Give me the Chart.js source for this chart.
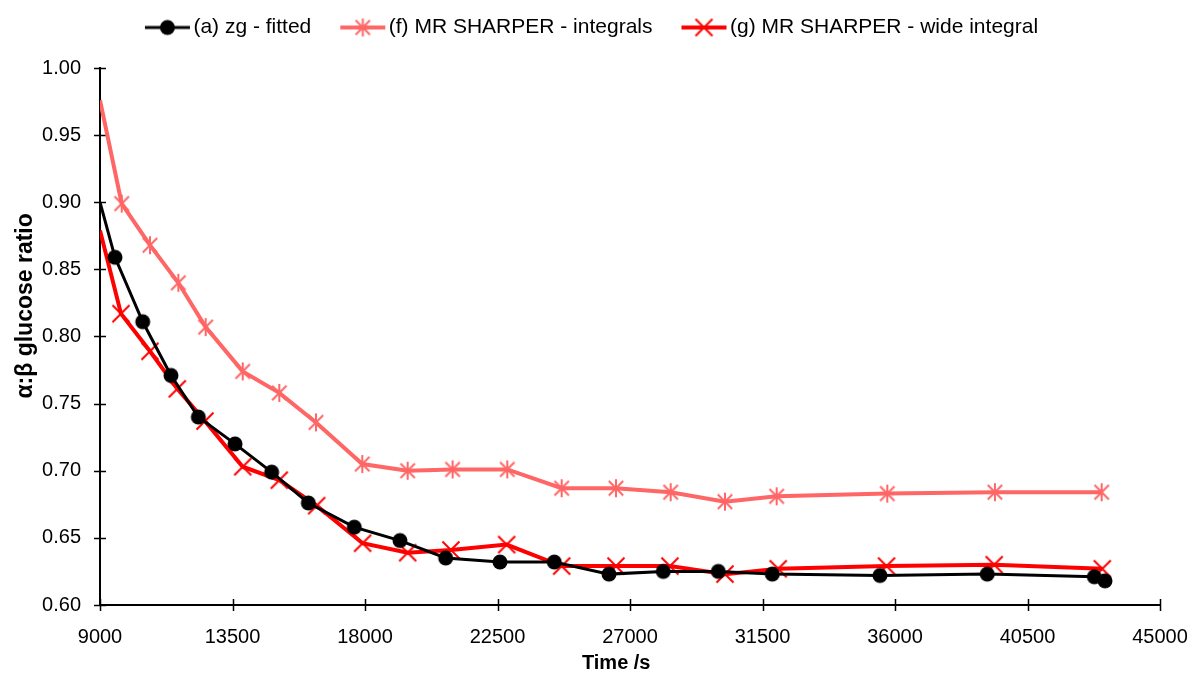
<!DOCTYPE html>
<html>
<head>
<meta charset="utf-8">
<script src="https://cdn.jsdelivr.net/npm/chart.js@4.4.0/dist/chart.umd.min.js"></script>
<style>
  html, body { margin: 0; padding: 0; background: #fff; }
  #wrap { width: 1193px; height: 677px; }
</style>
</head>
<body>
<div id="wrap"><canvas id="ratioChart" width="1193" height="677"></canvas></div>
<script>
// (a) zg - fitted
const timeA = [9000, 9509, 10450, 11411, 12339, 13585, 14830, 16075, 17637, 19188, 20740, 22584, 24428, 26286, 28130, 29998, 31832, 35489, 39133, 42770, 43130];
const ratioA = [0.900, 0.859, 0.811, 0.771, 0.740, 0.720, 0.699, 0.676, 0.658, 0.648, 0.635, 0.632, 0.632, 0.623, 0.625, 0.625, 0.623, 0.622, 0.623, 0.621, 0.618];

// (f) MR SHARPER - integrals
const timeF = [9000, 9737, 10698, 11660, 12589, 13846, 15089, 16335, 17908, 19449, 20974, 22832, 24679, 26523, 28381, 30225, 31981, 35737, 39392, 43018];
const ratioF = [0.976, 0.899, 0.868, 0.840, 0.807, 0.774, 0.758, 0.736, 0.705, 0.700, 0.701, 0.701, 0.687, 0.687, 0.684, 0.677, 0.681, 0.683, 0.684, 0.684];

// (g) MR SHARPER - wide integral
const timeG = [9000, 9713, 10698, 11625, 12566, 13846, 15089, 16358, 17918, 19449, 20918, 22811, 24679, 26523, 28355, 30225, 32034, 35713, 39369, 43039];
const ratioG = [0.879, 0.817, 0.789, 0.761, 0.737, 0.703, 0.693, 0.674, 0.646, 0.639, 0.641, 0.645, 0.629, 0.629, 0.629, 0.623, 0.627, 0.629, 0.630, 0.627];

const seriesNames = ['(a) zg - fitted', '(f) MR SHARPER - integrals', '(g) MR SHARPER - wide integral'];
const xTicks = [9000, 13500, 18000, 22500, 27000, 31500, 36000, 40500, 45000];
const yTicks = [0.60, 0.65, 0.70, 0.75, 0.80, 0.85, 0.90, 0.95, 1.00];
const xTitle = 'Time /s';
const yTitle = 'α:β glucose ratio';

const FONT = "'Liberation Sans', Arial, sans-serif";
const PINK = '#ff6666';
const RED = '#ff0000';

function toPoints(xs, ys) {
  return xs.map((x, i) => ({ x: x, y: ys[i] }));
}

// marker drawing shared by points and legend
function drawMarker(ctx, kind, cx, cy, color) {
  ctx.strokeStyle = color;
  ctx.fillStyle = color;
  ctx.lineWidth = 2;
  if (kind === 'circle') {
    ctx.beginPath();
    ctx.arc(cx, cy, 7.5, 0, Math.PI * 2);
    ctx.fill();
  } else if (kind === 'asterisk') {
    const r = 9;
    const d = r * 0.8;
    ctx.beginPath();
    ctx.moveTo(cx - d, cy - d); ctx.lineTo(cx + d, cy + d);
    ctx.moveTo(cx + d, cy - d); ctx.lineTo(cx - d, cy + d);
    ctx.moveTo(cx, cy - r); ctx.lineTo(cx, cy + r);
    ctx.stroke();
  } else {
    const r = 8.5;
    ctx.beginPath();
    ctx.moveTo(cx - r, cy - r); ctx.lineTo(cx + r, cy + r);
    ctx.moveTo(cx + r, cy - r); ctx.lineTo(cx - r, cy + r);
    ctx.stroke();
  }
}

function markerImage(kind, color) {
  const c = document.createElement('canvas');
  c.width = 22; c.height = 22;
  drawMarker(c.getContext('2d'), kind, 11, 11, color);
  return c;
}

// legend swatch: line with marker, shifted right inside a wider transparent canvas
function legendImage(kind, color, lw) {
  const c = document.createElement('canvas');
  c.width = 70; c.height = 22;
  const ctx = c.getContext('2d');
  ctx.strokeStyle = color;
  ctx.lineWidth = lw;
  ctx.beginPath();
  ctx.moveTo(23, 11); ctx.lineTo(68, 11);
  ctx.stroke();
  drawMarker(ctx, kind, 45.5, 11, color);
  return c;
}

const legendImgs = [legendImage('circle', '#000', 3), legendImage('asterisk', PINK, 4), legendImage('cross', RED, 4)];

// Excel style cross tick marks on both axes, plus the axis titles
const axisDecor = {
  id: 'axisDecor',
  beforeDatasetsDraw(chart) {
    const ctx = chart.ctx;
    const xs = chart.scales.x, ys = chart.scales.y;
    const area = chart.chartArea;
    ctx.save();
    ctx.strokeStyle = '#000';
    ctx.lineWidth = 1.5;
    ctx.beginPath();
    xTicks.forEach(v => {
      const px = Math.round(xs.getPixelForValue(v)) + 0.5;
      ctx.moveTo(px, area.bottom - 6); ctx.lineTo(px, area.bottom + 6);
    });
    yTicks.forEach(v => {
      const py = Math.round(ys.getPixelForValue(v)) + 0.5;
      ctx.moveTo(area.left - 6, py); ctx.lineTo(area.left + 6, py);
    });
    ctx.stroke();

    ctx.fillStyle = '#000';
    ctx.textAlign = 'center';
    ctx.textBaseline = 'middle';
    ctx.font = 'bold 20px ' + FONT;
    ctx.fillText(xTitle, area.left + (area.right - area.left) * 0.487, 663);
    ctx.translate(26, area.top + (area.bottom - area.top) * 0.443);
    ctx.rotate(-Math.PI / 2);
    ctx.font = 'bold 23px ' + FONT;
    ctx.fillText(yTitle, 0, 0);
    ctx.restore();
  }
};

// keep the legend band at a fixed height
const legendBand = {
  id: 'legendBand',
  beforeLayout(chart) {
    const lg = chart.legend;
    if (lg && !lg._bandPatched) {
      const fit = lg.fit.bind(lg);
      lg.fit = function () { fit(); this.height = 66; };
      lg._bandPatched = true;
    }
  }
};

function series(label, xs, ys, color, kind, lw) {
  const img = markerImage(kind, color);
  return {
    label: label,
    data: toPoints(xs, ys),
    showLine: true,
    borderColor: color,
    backgroundColor: color,
    borderWidth: lw,
    pointStyle: img,
    pointRadius: ctx => ctx.dataIndex === 0 ? 0 : 7,
    pointHoverRadius: 7,
    tension: 0
  };
}

new Chart(document.getElementById('ratioChart'), {
  type: 'scatter',
  data: {
    datasets: [
      series(seriesNames[0], timeA, ratioA, '#000000', 'circle', 3),
      series(seriesNames[1], timeF, ratioF, PINK, 'asterisk', 4),
      series(seriesNames[2], timeG, ratioG, RED, 'cross', 4)
    ]
  },
  options: {
    responsive: false,
    animation: false,
    layout: { padding: { left: 0, right: 24, top: 2, bottom: 0 } },
    plugins: {
      tooltip: { enabled: false },
      legend: {
        position: 'top',
        labels: {
          usePointStyle: true,
          pointStyleWidth: 52,
          padding: 15,
          color: '#000',
          font: { family: FONT, size: 21 },
          generateLabels(chart) {
            const items = Chart.defaults.plugins.legend.labels.generateLabels(chart);
            items.forEach((it, i) => { it.pointStyle = legendImgs[i]; });
            return items;
          }
        }
      }
    },
    scales: {
      x: {
        type: 'linear',
        min: 9000,
        max: 45000,
        afterBuildTicks(scale) { scale.ticks = xTicks.map(v => ({ value: v })); },
        afterFit(scale) {
          scale.height = 72;
          scale.paddingLeft = 0;
          scale.paddingRight = 33;
        },
        grid: { display: false, drawTicks: false },
        border: { display: true, color: '#000', width: 2 },
        ticks: {
          color: '#000',
          padding: 20,
          font: { family: FONT, size: 20 },
          callback: v => String(v)
        }
      },
      y: {
        type: 'linear',
        min: 0.6,
        max: 1.0,
        afterBuildTicks(scale) { scale.ticks = yTicks.map(v => ({ value: v })); },
        afterFit(scale) { scale.width = 100; },
        grid: { display: false, drawTicks: false },
        border: { display: true, color: '#000', width: 2 },
        ticks: {
          color: '#000',
          padding: 19,
          font: { family: FONT, size: 20 },
          callback: v => Number(v).toFixed(2)
        }
      }
    }
  },
  plugins: [axisDecor, legendBand]
});
</script>
</body>
</html>
